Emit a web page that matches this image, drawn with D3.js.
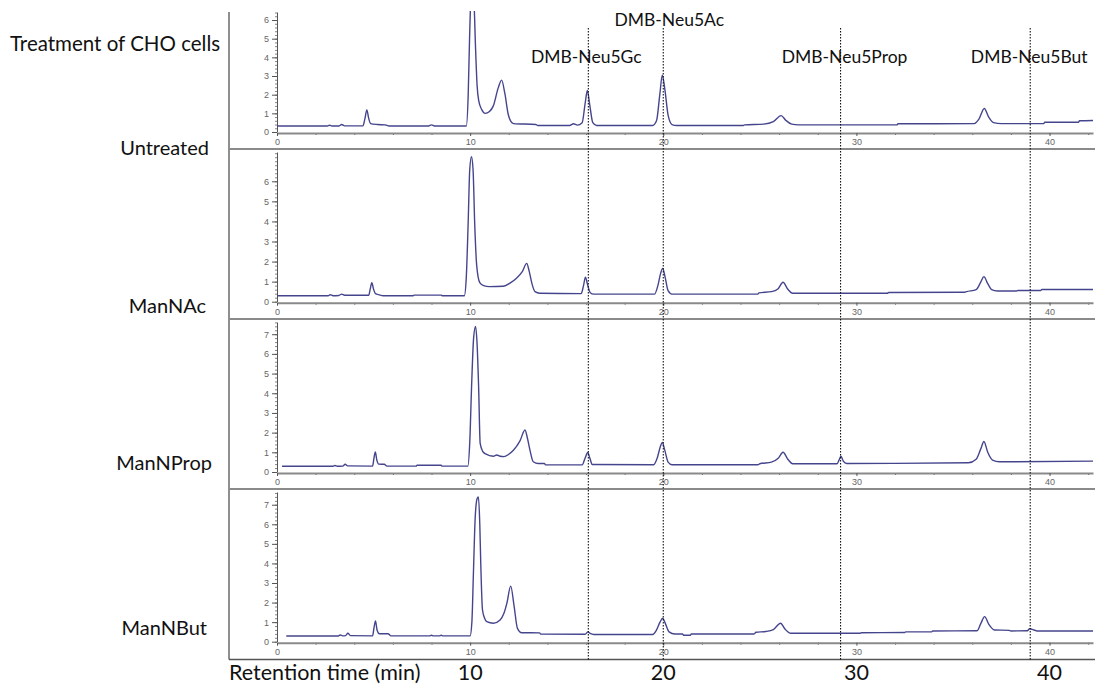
<!DOCTYPE html>
<html>
<head>
<meta charset="utf-8">
<script src="https://cdn.jsdelivr.net/npm/d3@7"></script>
<style>
  html, body { margin: 0; padding: 0; background: #fff; }
  svg { display: block; }
</style>
</head>
<body>
<script>
// ---------- data ----------
// retention-time axis (min)
const xMaxTime = 42.25;
const xMajorTicks = [0, 10, 20, 30, 40];
const xMinorTicks = [2, 4, 6, 8, 12, 14, 16, 18, 22, 24, 26, 28, 32, 34, 36, 38, 42];
const bottomTickLabels = [10, 20, 30, 40];

// treatments, one chromatogram each (fluorescence signal vs time)
const treatments = ["Untreated", "ManNAc", "ManNProp", "ManNBut"];
const signalMax = [6.43, 7.46, 7.62, 7.65];
const signalTickMax = [6, 6, 7, 7];

// DMB-labelled sialic acid standards
const standardTimes = [16.12, 20.0, 29.18, 39.0];
const standardLabels = ["DMB-Neu5Gc", "DMB-Neu5Ac", "DMB-Neu5Prop", "DMB-Neu5But"];

const untreated = [
  [0.0,0.32],[2.6,0.32],[2.72,0.36],[2.85,0.32],[3.2,0.32],[3.35,0.4],[3.5,0.33],[4.45,0.33],
  [4.55,0.7],[4.65,1.18],[4.75,0.72],[4.85,0.45],[5.2,0.4],[5.6,0.38],[5.8,0.32],[7.85,0.32],
  [8.0,0.38],[8.15,0.32],[9.8,0.32],[9.9,2.0],[9.97,5.0],[10.03,7.0],[10.12,7.8],[10.2,7.0],
  [10.28,4.5],[10.36,2.5],[10.45,1.65],[10.6,1.2],[10.78,1.0],[11.0,1.1],[11.2,1.4],[11.45,2.35],
  [11.63,2.78],[11.8,2.05],[11.97,0.95],[12.1,0.58],[12.25,0.45],[13.4,0.4],[13.5,0.35],
  [15.15,0.35],[15.35,0.44],[15.55,0.37],[15.8,0.5],[15.95,1.5],[16.07,2.22],[16.2,1.4],
  [16.35,0.5],[16.55,0.35],[19.45,0.35],[19.65,0.6],[19.82,2.0],[19.95,3.05],[20.08,2.3],
  [20.25,0.9],[20.45,0.4],[20.7,0.35],[24.15,0.35],[24.2,0.38],[25.2,0.42],[25.7,0.55],
  [26.1,0.88],[26.35,0.62],[26.65,0.42],[27.0,0.38],[32.1,0.38],[32.15,0.44],[36.1,0.45],
  [36.35,0.7],[36.62,1.26],[36.85,0.8],[37.1,0.5],[37.5,0.45],[39.7,0.45],[39.75,0.52],
  [41.5,0.52],[41.55,0.6],[42.25,0.62]
];

const manNAc = [
  [0.0,0.3],[2.65,0.3],[2.75,0.35],[2.9,0.3],[3.2,0.31],[3.35,0.38],[3.5,0.32],[4.75,0.32],
  [4.83,0.65],[4.91,0.95],[5.0,0.62],[5.1,0.4],[5.3,0.34],[5.5,0.3],[7.05,0.3],[7.1,0.33],
  [8.5,0.33],[8.55,0.3],[9.7,0.3],[9.8,1.2],[9.9,4.0],[9.98,6.6],[10.07,7.22],[10.15,6.6],
  [10.24,3.8],[10.34,1.8],[10.5,0.95],[10.7,0.8],[11.0,0.75],[11.7,0.77],[12.1,0.95],
  [12.4,1.17],[12.7,1.5],[12.93,1.91],[13.05,1.55],[13.2,0.9],[13.36,0.5],[13.6,0.42],
  [15.75,0.4],[15.87,0.8],[15.97,1.22],[16.08,0.85],[16.22,0.45],[16.4,0.38],[19.55,0.38],
  [19.72,0.8],[19.86,1.4],[19.97,1.66],[20.1,1.2],[20.25,0.55],[20.45,0.38],[24.9,0.38],
  [24.95,0.44],[25.6,0.5],[25.95,0.65],[26.2,0.97],[26.45,0.62],[26.7,0.42],[31.6,0.42],
  [31.67,0.46],[35.6,0.47],[35.7,0.5],[36.2,0.6],[36.45,1.0],[36.6,1.25],[36.8,0.9],
  [37.0,0.6],[37.3,0.53],[38.3,0.53],[38.35,0.56],[39.55,0.56],[39.6,0.61],[42.25,0.61]
];

const manNProp = [
  [0.26,0.29],[2.9,0.29],[3.0,0.33],[3.12,0.29],[3.4,0.3],[3.53,0.39],[3.65,0.31],[4.95,0.3],
  [5.02,0.7],[5.09,1.02],[5.17,0.6],[5.27,0.4],[5.55,0.39],[5.7,0.3],[7.2,0.3],[7.25,0.34],
  [8.5,0.34],[8.55,0.3],[9.88,0.3],[9.98,1.5],[10.08,4.5],[10.18,6.8],[10.28,7.4],[10.36,6.5],
  [10.44,4.3],[10.52,1.45],[10.65,1.05],[10.8,0.92],[11.2,0.8],[11.38,0.86],[11.55,0.8],
  [11.75,0.78],[12.0,0.9],[12.24,1.1],[12.58,1.58],[12.84,2.13],[12.97,1.7],[13.1,1.1],
  [13.27,0.52],[13.53,0.43],[13.85,0.43],[13.9,0.36],[15.8,0.36],[15.95,0.7],[16.09,0.99],
  [16.2,0.7],[16.32,0.38],[19.5,0.37],[19.7,0.75],[19.85,1.3],[19.95,1.5],[20.08,1.1],
  [20.25,0.5],[20.45,0.37],[24.9,0.37],[25.0,0.42],[25.6,0.5],[25.95,0.7],[26.2,1.0],
  [26.45,0.65],[26.7,0.42],[29.0,0.42],[29.1,0.6],[29.2,0.8],[29.32,0.55],[29.5,0.43],
  [32.0,0.44],[35.8,0.47],[36.2,0.65],[36.45,1.2],[36.6,1.55],[36.8,1.0],[37.05,0.6],
  [37.4,0.52],[42.25,0.55]
];

const manNBut = [
  [0.48,0.29],[3.15,0.29],[3.27,0.34],[3.4,0.3],[3.55,0.31],[3.67,0.43],[3.8,0.31],[4.95,0.3],
  [5.02,0.7],[5.1,1.06],[5.18,0.6],[5.3,0.41],[5.75,0.41],[5.9,0.3],[7.9,0.3],[8.0,0.33],
  [8.1,0.3],[8.4,0.3],[8.5,0.33],[8.6,0.3],[10.0,0.3],[10.09,1.0],[10.17,3.5],[10.26,6.3],
  [10.36,7.3],[10.43,7.4],[10.5,6.0],[10.55,4.0],[10.64,1.62],[10.75,1.2],[10.86,1.02],
  [11.2,0.94],[11.55,1.11],[11.75,1.45],[11.9,1.96],[12.1,2.84],[12.28,1.79],[12.45,0.68],
  [12.67,0.46],[13.6,0.45],[13.65,0.39],[15.95,0.38],[16.1,0.5],[16.22,0.42],[16.4,0.37],
  [19.45,0.37],[19.65,0.6],[19.83,1.0],[19.97,1.2],[20.1,0.95],[20.3,0.5],[20.6,0.39],
  [21.0,0.39],[21.05,0.33],[21.4,0.33],[21.45,0.39],[24.7,0.39],[24.8,0.48],[25.3,0.52],
  [25.7,0.62],[26.07,0.94],[26.3,0.65],[26.6,0.43],[30.2,0.43],[30.25,0.46],[32.5,0.47],
  [32.55,0.5],[33.9,0.5],[33.95,0.55],[36.25,0.56],[36.45,0.95],[36.64,1.28],[36.85,0.9],
  [37.15,0.6],[37.9,0.58],[38.0,0.55],[38.85,0.56],[38.97,0.66],[39.2,0.6],[39.35,0.55],
  [42.25,0.55]
];

const traces = [untreated, manNAc, manNProp, manNBut];

// ---------- layout ----------
const W = 1095, H = 684;
const frameX = 229;             // left frame line
const plotLeft = 277, plotRight = 1093;
const panelTop  = [12, 152, 322, 492];          // top of each signal axis
const panelZero = [132, 301.7, 472, 641.7];     // pixel row of signal = 0
const separators = [149, 319, 489];
const bottomLine = 659.5;
const nameRight = [209, 206, 212, 207];         // right edge of each treatment name
const nameY = [155, 313, 470, 635];
const stdLabelDx = [-2, 6, 4, -1];
const stdLabelY = [63, 26, 63, 63];

const font = "Lato, 'Open Sans', sans-serif";
const tickFont = "'Liberation Sans', Arial, sans-serif";
const traceColor = "#45458e";

const svg = d3.select("body").append("svg")
  .attr("width", W).attr("height", H)
  .attr("viewBox", `0 0 ${W} ${H}`);

const x = d3.scaleLinear().domain([0, xMaxTime]).range([plotLeft, plotRight]);

const defs = svg.append("defs");

// frame: left rule, panel separators, bottom rule
svg.append("line")
  .attr("x1", frameX).attr("x2", frameX).attr("y1", 12).attr("y2", bottomLine)
  .attr("stroke", "#444").attr("stroke-width", 1.2);
separators.forEach(sy => {
  svg.append("line")
    .attr("x1", frameX).attr("x2", W).attr("y1", sy).attr("y2", sy)
    .attr("stroke", "#8a8a8a").attr("stroke-width", 2);
});
svg.append("line")
  .attr("x1", frameX).attr("x2", W).attr("y1", bottomLine).attr("y2", bottomLine)
  .attr("stroke", "#555").attr("stroke-width", 1.5);

treatments.forEach((name, i) => {
  const y = d3.scaleLinear().domain([0, signalMax[i]]).range([panelZero[i], panelTop[i]]);
  const g = svg.append("g").attr("class", "panel");

  // clip to this panel's band
  const clipTop = i === 0 ? panelTop[0] - 1 : separators[i - 1] + 1;
  const clipId = "clip" + i;
  defs.append("clipPath").attr("id", clipId)
    .append("rect").attr("x", 0).attr("y", clipTop)
    .attr("width", W).attr("height", panelZero[i] + 4 - clipTop);
  const unitClipId = "uclip" + i;
  defs.append("clipPath").attr("id", unitClipId)
    .append("rect").attr("x", 240).attr("y", clipTop + 1)
    .attr("width", 40).attr("height", 20);

  // signal axis: minor and major ticks
  const minorVals = d3.range(0, signalMax[i] + 1e-6, 0.2);
  g.append("g")
    .attr("transform", `translate(${plotLeft},0)`)
    .call(d3.axisLeft(y).tickValues(minorVals).tickSize(2).tickFormat(""))
    .call(a => a.select(".domain").remove())
    .call(a => a.selectAll("line").attr("stroke", "#666").attr("stroke-width", 0.8));
  const yAxis = g.append("g")
    .attr("transform", `translate(${plotLeft},0)`)
    .call(d3.axisLeft(y)
      .tickValues(d3.range(0, signalTickMax[i] + 1))
      .tickFormat(d3.format("d"))
      .tickSize(5).tickSizeOuter(0).tickPadding(3));
  yAxis.select(".domain").attr("stroke", "#555").attr("stroke-width", 1);
  yAxis.selectAll("line").attr("stroke", "#555");
  yAxis.selectAll("text").attr("fill", "#666").attr("font-size", 9).attr("font-family", tickFont);

  // unit label peeking in at the top of the signal axis
  if (i > 0) {
    g.append("text")
      .attr("clip-path", `url(#${unitClipId})`)
      .attr("transform", `translate(266,${clipTop + 9}) rotate(-90)`)
      .attr("font-size", 10).attr("font-family", tickFont).attr("fill", "#777")
      .text("EU");
  }

  // time axis
  const xAxisY = panelZero[i] + 1;
  g.append("g")
    .attr("transform", `translate(0,${xAxisY})`)
    .call(d3.axisBottom(x).tickValues(xMinorTicks).tickSize(2).tickFormat(""))
    .call(a => a.select(".domain").remove())
    .call(a => a.selectAll("line").attr("stroke", "#555"));
  const xAxis = g.append("g")
    .attr("transform", `translate(0,${xAxisY})`)
    .call(d3.axisBottom(x).tickValues(xMajorTicks).tickSize(3).tickSizeOuter(0).tickPadding(3));
  xAxis.select(".domain").attr("stroke", "#8a8a8a").attr("stroke-width", 2);
  xAxis.selectAll("line").attr("stroke", "#555");
  xAxis.selectAll("text").attr("fill", "#666").attr("font-size", 9).attr("font-family", tickFont);

  // chromatogram trace
  const line = d3.line()
    .x(d => x(d[0]))
    .y(d => y(d[1]))
    .curve(d3.curveMonotoneX);
  g.append("path")
    .datum(traces[i])
    .attr("clip-path", `url(#${clipId})`)
    .attr("d", line)
    .attr("fill", "none")
    .attr("stroke", traceColor)
    .attr("stroke-width", 1.4)
    .attr("stroke-linejoin", "round");

  // treatment name
  svg.append("text")
    .attr("x", nameRight[i]).attr("y", nameY[i])
    .attr("text-anchor", "end")
    .attr("font-family", font).attr("font-size", 20).attr("fill", "#111")
    .text(name);
});

// dotted guide lines at the standards' retention times
standardTimes.forEach((t, k) => {
  svg.append("line")
    .attr("x1", x(t)).attr("x2", x(t))
    .attr("y1", 28).attr("y2", bottomLine + 1)
    .attr("stroke", "#111").attr("stroke-width", 1.1)
    .attr("stroke-dasharray", "1.5,1.5");
  svg.append("text")
    .attr("x", x(t) + stdLabelDx[k]).attr("y", stdLabelY[k])
    .attr("text-anchor", "middle")
    .attr("font-family", font).attr("font-size", 17.5).attr("fill", "#111")
    .text(standardLabels[k]);
});

// heading and axis title
svg.append("text")
  .attr("x", 10).attr("y", 51)
  .attr("font-family", font).attr("font-size", 20.5).attr("fill", "#111")
  .text("Treatment of CHO cells");
svg.append("text")
  .attr("x", 229).attr("y", 680)
  .attr("font-family", font).attr("font-size", 21.5).attr("fill", "#111")
  .text("Retention time (min)");
svg.selectAll("text.bottomTick")
  .data(bottomTickLabels)
  .enter().append("text")
  .attr("class", "bottomTick")
  .attr("x", d => x(d)).attr("y", 680)
  .attr("text-anchor", "middle")
  .attr("font-family", font).attr("font-size", 21.5).attr("fill", "#111")
  .text(d => d);
</script>
</body>
</html>
